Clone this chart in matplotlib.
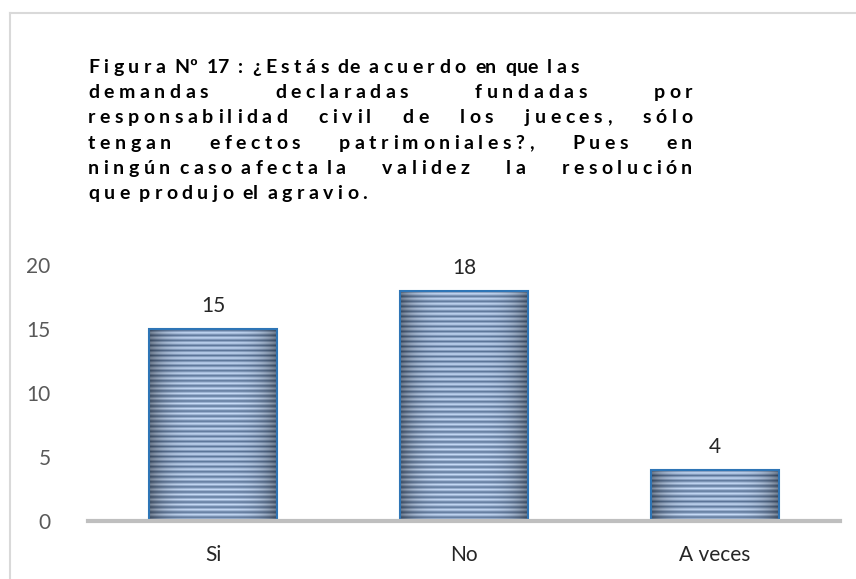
import numpy as np
import matplotlib
matplotlib.use('Agg')
import matplotlib.pyplot as plt
from matplotlib.lines import Line2D

# Data
categories = ['Si', 'No', 'A veces']
values = [15, 18, 4]
y_ticks = [0, 5, 10, 15, 20]

# Title lines: (tokens, justified); one space = letter gap, two spaces = word gap
title_lines = [
    (['F i g u r a  Nº  17  :  ¿ E s t á s  de  a c u e r d o  en  que  l a s'], False),
    (['d e m a n d a s', 'd e c l a r a d a s', 'f u n d a d a s', 'p o r'], True),
    (['r e s p o n s a b i l i d a d', 'c i v i l', 'd e', 'l o s', 'j u e c e s ,', 's ó l o'], True),
    (['t e n g a n', 'e f e c t o s', 'p a t r i m o n i a l e s ? ,', 'P u e s', 'e n'], True),
    (['n i n g ú n  c a s o  a f e c t a  l a', 'v a l i d e z', 'l a', 'r e s o l u c i ó n'], True),
    (['q u e  p r o d u j o  el  a g r a v i o .'], False),
]

plt.rcParams['font.family'] = ['Lato', 'DejaVu Sans']

W, H = 856, 579
fig = plt.figure(figsize=(W / 100, H / 100), dpi=100)
fig.patch.set_facecolor('white')

# Light grey frame (top and left edges visible)
fig.add_artist(Line2D([9.5 / W, 9.5 / W], [0, 1 - 12.5 / H], transform=fig.transFigure,
                      color='#d9d9d9', lw=1.5))
fig.add_artist(Line2D([9.5 / W, 1], [1 - 12.5 / H, 1 - 12.5 / H], transform=fig.transFigure,
                      color='#d9d9d9', lw=1.5))

ax = fig.add_axes([88 / W, 1 - 521 / H, (840 - 88) / W, (521 - 265) / H])
x = np.arange(len(categories))
bars = ax.bar(x, values, width=0.51, color='none', edgecolor='#2e75b6', linewidth=1.5, zorder=3)
ax.set_xlim(-0.5, len(categories) - 0.5)
ax.set_ylim(0, 20)

# Striped fill for each bar
light = np.array([0.78, 0.86, 0.97])
dark = np.array([0.36, 0.46, 0.60])
for b in bars:
    x0, y0 = b.get_x(), b.get_y()
    x1, y1 = x0 + b.get_width(), y0 + b.get_height()
    h_px = ax.transData.transform((0, y1))[1] - ax.transData.transform((0, y0))[1]
    nrows = max(int(h_px / 2.5), 2)
    ncols = 60
    rows = np.array([(i % 2) for i in range(nrows)])[:, None, None]
    base = np.where(rows == 1, light, dark) * np.ones((nrows, ncols, 3))
    u = np.linspace(-1, 1, ncols)
    shade = 1 - 0.4 * np.abs(u) ** 4
    img = base * shade[None, :, None]
    im = ax.imshow(img, extent=[x0, x1, y0, y1], aspect='auto', interpolation='bilinear', zorder=2)
    im.set_clip_path(b)
ax.set_xlim(-0.5, len(categories) - 0.5)
ax.set_ylim(0, 20)

for xi, v in zip(x, values):
    ax.annotate(str(v), (xi, v), xytext=(0, 9), textcoords='offset points',
                ha='center', va='bottom', fontsize=15, color='#262626')

ax.set_xticks(x, categories)
ax.set_yticks(y_ticks)
ax.tick_params(axis='y', length=0, pad=27, labelsize=15, labelcolor='#595959')
ax.tick_params(axis='x', length=0, pad=17, labelsize=15, labelcolor='#262626')
for s in ['top', 'right', 'left']:
    ax.spines[s].set_visible(False)
ax.spines['bottom'].set_color('#bfbfbf')
ax.spines['bottom'].set_linewidth(3)
ax.spines['bottom'].set_zorder(4)

# Title, drawn character by character with letter spacing and justification
renderer = fig.canvas.get_renderer()
left_px, right_px = 88, 692
baselines = [73, 98, 123, 149, 174, 199]
tfs = 14
letter_gap = 4.5
width_cache = {}


def char_width(c):
    if c not in width_cache:
        t = fig.text(0, 0, 'H' + c + 'H', fontsize=tfs, fontweight='bold')
        w = t.get_window_extent(renderer).width
        t.remove()
        t = fig.text(0, 0, 'HH', fontsize=tfs, fontweight='bold')
        w -= t.get_window_extent(renderer).width
        t.remove()
        width_cache[c] = w
    return width_cache[c]


def token_width(tk):
    return sum(letter_gap if c == ' ' else char_width(c) for c in tk)


def draw_token(xp, yb, tk):
    for c in tk:
        if c == ' ':
            xp += letter_gap
            continue
        fig.text(xp / W, 1 - yb / H, c, fontsize=tfs, fontweight='bold', color='black',
                 ha='left', va='baseline')
        xp += char_width(c)
    return xp


for (tokens, justified), yb in zip(title_lines, baselines):
    widths = [token_width(tk) for tk in tokens]
    if justified and len(tokens) > 1:
        gap = (right_px - left_px - sum(widths)) / (len(tokens) - 1)
    else:
        gap = 0
    xp = left_px
    for tk, w in zip(tokens, widths):
        draw_token(xp, yb, tk)
        xp += w + gap

fig.savefig('out.png', dpi=100, facecolor='white')
